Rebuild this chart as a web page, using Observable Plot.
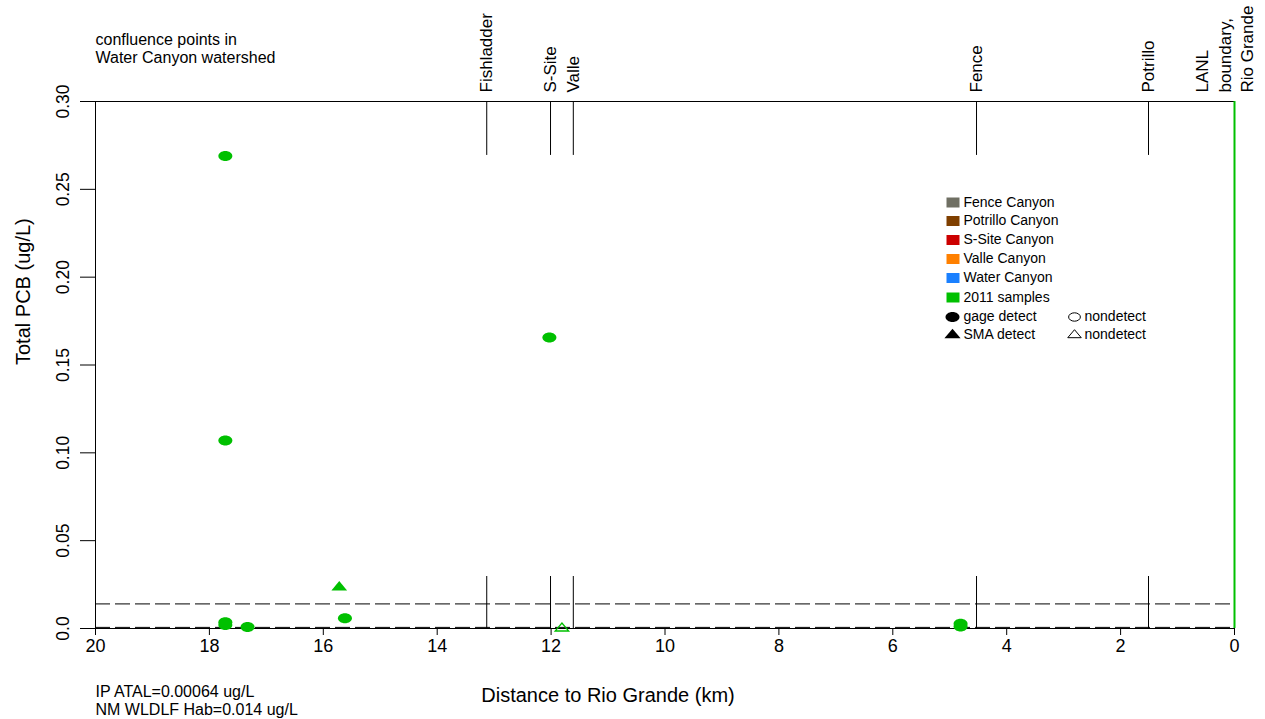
<!DOCTYPE html>
<html>
<head>
<meta charset="utf-8">
<script src="https://cdn.jsdelivr.net/npm/d3@7"></script>
<script src="https://cdn.jsdelivr.net/npm/@observablehq/plot@0.6"></script>
<style>
  html, body { margin: 0; padding: 0; background: #fff; }
  #chart { width: 1265px; height: 719px; }
</style>
</head>
<body>
<div id="chart"></div>
<script>
// ---- data ----
const xTicks = [20, 18, 16, 14, 12, 10, 8, 6, 4, 2, 0];
const yTicks = [0, 0.05, 0.10, 0.15, 0.20, 0.25, 0.30];
const yTickLabels = ["0.0", "0.05", "0.10", "0.15", "0.20", "0.25", "0.30"];

const confluenceNames = ["Fishladder", "S-Site", "Valle", "Fence", "Potrillo"];
const confluenceKm = [13.13, 12.01, 11.61, 4.53, 1.51];
const boundaryLabel = "LANL\nboundary,\nRio Grande";
const boundaryKm = 0;

// 2011 samples (green)
const gageDetectKm = [17.72, 17.72, 17.72, 17.72, 17.33, 15.62, 12.03, 4.81, 4.81];
const gageDetectPCB = [0.269, 0.107, 0.0035, 0.0020, 0.0008, 0.0059, 0.1657, 0.0027, 0.0012];
const smaDetectKm = [15.72];
const smaDetectPCB = [0.0238];
const smaNondetectKm = [11.81];
const smaNondetectPCB = [0.0004];

const thresholds = [0.00064, 0.014];

const legendLabels = ["Fence Canyon", "Potrillo Canyon", "S-Site Canyon", "Valle Canyon", "Water Canyon", "2011 samples"];
const legendColors = ["#6f6f63", "#7f3f00", "#cc0000", "#ff8000", "#1a80ff", "#00c000"];

const cornerNote = "confluence points in\nWater Canyon watershed";
const criteriaNote = "IP ATAL=0.00064 ug/L\nNM WLDLF Hab=0.014 ug/L";
const xTitle = "Distance to Rio Grande (km)";
const yTitle = "Total PCB (ug/L)";

// ---- styles ----
const green = "#00c000";
const ellipse = {draw(ctx, size) {
  const r = Math.sqrt(size / Math.PI), rx = r * 1.4, ry = r, k = 0.5523;
  ctx.moveTo(rx, 0);
  ctx.bezierCurveTo(rx, ry * k, rx * k, ry, 0, ry);
  ctx.bezierCurveTo(-rx * k, ry, -rx, ry * k, -rx, 0);
  ctx.bezierCurveTo(-rx, -ry * k, -rx * k, -ry, 0, -ry);
  ctx.bezierCurveTo(rx * k, -ry, rx, -ry * k, rx, 0);
  ctx.closePath();
}};
const triangle = {draw(ctx, size) {
  const r = Math.sqrt(size / Math.PI), w = r * 1.35, h = r * 1.6;
  ctx.moveTo(0, -h * 0.6);
  ctx.lineTo(w, h * 0.4);
  ctx.lineTo(-w, h * 0.4);
  ctx.closePath();
}};
const rect = {draw(ctx, size) {
  const r = Math.sqrt(size / Math.PI), w = r * 1.3, h = r;
  ctx.rect(-w / 2, -h / 2, w, h);
}};

const rowDy = (i) => [101, 119.5, 138.5, 157.5, 176.5, 196, 215.5, 233][i];

const legendMarks = [];
legendLabels.forEach((lab, i) => {
  legendMarks.push(Plot.dot([lab], {frameAnchor: "top-left", dx: 857.5, dy: rowDy(i), symbol: rect, r: 10, fill: legendColors[i], stroke: "none"}));
  legendMarks.push(Plot.text([lab], {frameAnchor: "top-left", dx: 868, dy: rowDy(i), text: d => d, textAnchor: "start", lineAnchor: "middle", fontSize: 14}));
});
legendMarks.push(Plot.dot(["gage detect"], {frameAnchor: "top-left", dx: 857, dy: rowDy(6), symbol: ellipse, r: 5, fill: "#000", stroke: "none"}));
legendMarks.push(Plot.text(["gage detect"], {frameAnchor: "top-left", dx: 868, dy: rowDy(6), text: d => d, textAnchor: "start", lineAnchor: "middle", fontSize: 14}));
legendMarks.push(Plot.dot(["nondetect"], {frameAnchor: "top-left", dx: 979, dy: rowDy(6), symbol: ellipse, r: 4.2, fill: "none", stroke: "#000", strokeWidth: 1}));
legendMarks.push(Plot.text(["nondetect"], {frameAnchor: "top-left", dx: 989, dy: rowDy(6), text: d => d, textAnchor: "start", lineAnchor: "middle", fontSize: 14}));
legendMarks.push(Plot.dot(["SMA detect"], {frameAnchor: "top-left", dx: 857, dy: rowDy(7), symbol: triangle, r: 6, fill: "#000", stroke: "none"}));
legendMarks.push(Plot.text(["SMA detect"], {frameAnchor: "top-left", dx: 868, dy: rowDy(7), text: d => d, textAnchor: "start", lineAnchor: "middle", fontSize: 14}));
legendMarks.push(Plot.dot(["nondetect"], {frameAnchor: "top-left", dx: 979, dy: rowDy(7), symbol: triangle, r: 5, fill: "none", stroke: "#000", strokeWidth: 1}));
legendMarks.push(Plot.text(["nondetect"], {frameAnchor: "top-left", dx: 989, dy: rowDy(7), text: d => d, textAnchor: "start", lineAnchor: "middle", fontSize: 14}));

const idx = (a) => a.map((_, i) => i);

const chart = Plot.plot({
  width: 1265,
  height: 719,
  marginLeft: 95,
  marginRight: 31,
  marginTop: 101,
  marginBottom: 91,
  style: {fontFamily: "'Liberation Sans', Arial, sans-serif", fontSize: "16px", background: "#fff", color: "#000", overflow: "visible"},
  x: {domain: [20, 0], range: [95, 1234]},
  y: {domain: [0, 0.30]},
  marks: [
    Plot.axisX({ticks: xTicks, tickSize: 7, tickPadding: 4, fontSize: 18, label: null, tickFormat: d => String(d)}),
    Plot.axisY({ticks: yTicks, tickSize: 15, tickFormat: () => "", label: null}),
    Plot.text(idx(yTicks), {y: i => yTicks[i], text: i => yTickLabels[i], frameAnchor: "left", dx: -32.5, rotate: -90, textAnchor: "middle", lineAnchor: "middle", fontSize: 17.5}),
    Plot.ruleX([20], {y1: 0, y2: 0.30, stroke: "#000"}),
    Plot.ruleY([0], {x1: 20, x2: 0, stroke: "#000"}),
    Plot.ruleY([0.30], {x1: 20, x2: 0, stroke: "#000"}),
    Plot.ruleY(thresholds, {x1: 20, x2: 0, stroke: "#000", strokeOpacity: 1, strokeDasharray: "15,5"}),
    Plot.ruleX(confluenceKm, {y1: 0.30, y2: 0.2693, stroke: "#000"}),
    Plot.ruleX(confluenceKm, {y1: 0.0296, y2: 0, stroke: "#000"}),
    Plot.text(idx(confluenceKm), {x: i => confluenceKm[i], y: () => 0.30, text: i => confluenceNames[i], rotate: -90, textAnchor: "start", lineAnchor: "middle", dy: -9, fontSize: 17}),
    Plot.text([boundaryLabel], {x: () => boundaryKm, y: () => 0.30, text: d => d, rotate: -90, textAnchor: "start", lineAnchor: "middle", lineHeight: 1.33, dx: -11, dy: -9, fontSize: 17}),
    Plot.ruleX([boundaryKm], {y1: 0, y2: 0.30, stroke: green, strokeWidth: 2}),
    Plot.dot(idx(gageDetectKm), {x: i => gageDetectKm[i], y: i => gageDetectPCB[i], symbol: ellipse, r: 5, fill: green, stroke: "none"}),
    Plot.dot(idx(smaDetectKm), {x: i => smaDetectKm[i], y: i => smaDetectPCB[i], symbol: triangle, r: 5.8, fill: green, stroke: "none"}),
    Plot.dot(idx(smaNondetectKm), {x: i => smaNondetectKm[i], y: i => smaNondetectPCB[i], symbol: triangle, r: 5, fill: "none", stroke: green, strokeWidth: 1.3}),
    Plot.text([xTitle], {frameAnchor: "bottom", text: d => d, dx: -57, dy: 59.5, lineAnchor: "top", fontSize: 20}),
    Plot.text([yTitle], {frameAnchor: "left", text: d => d, dx: -72, rotate: -90, lineAnchor: "middle", fontSize: 20}),
    Plot.text([cornerNote], {frameAnchor: "top-left", text: d => d, dy: -69.5, textAnchor: "start", lineAnchor: "top", lineHeight: 1.125, fontSize: 16}),
    Plot.text([criteriaNote], {frameAnchor: "bottom-left", text: d => d, dy: 56, textAnchor: "start", lineAnchor: "top", lineHeight: 1.1, fontSize: 16}),
    ...legendMarks
  ]
});
document.getElementById("chart").appendChild(chart);
</script>
</body>
</html>
